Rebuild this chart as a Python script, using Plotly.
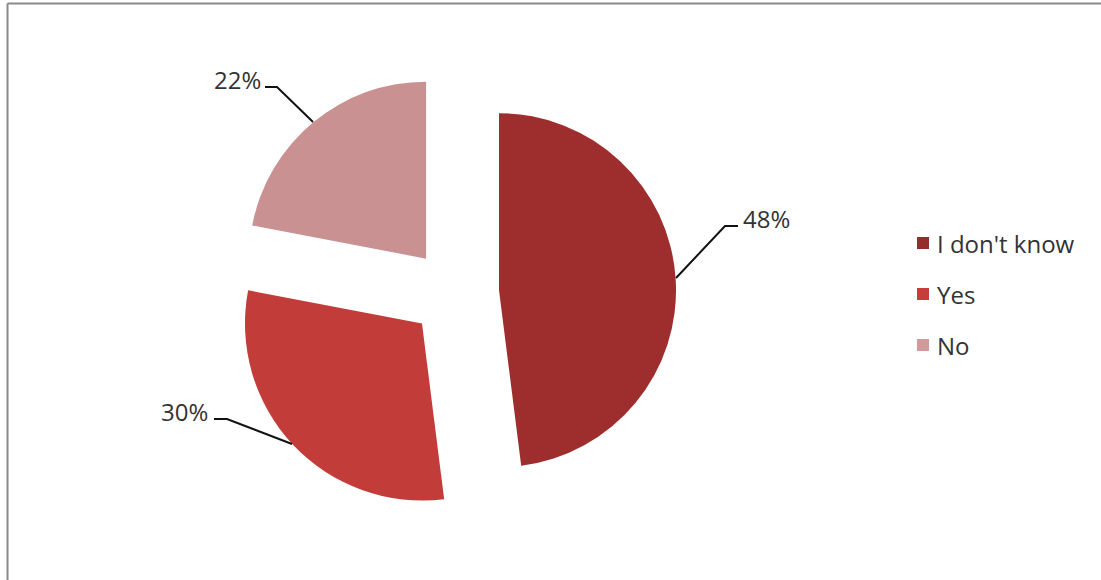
import plotly.graph_objects as go

# Survey answers
categories = ["I don't know", "Yes", "No"]
shares = [48, 30, 22]

slice_colors = ["#9E2E2D", "#C23C39", "#C99191"]
legend_colors = ["#952D2D", "#C73D3C", "#D29B9B"]

W, H = 1101, 580


def px(x):
    return x / W


def py(y):
    return 1 - y / H


fig = go.Figure()

# Exploded pie: centre (454.5, 293) px, box side 443 px
fig.add_trace(go.Pie(
    labels=categories,
    values=shares,
    sort=False,
    direction="clockwise",
    rotation=0,
    pull=[0.252, 0.252, 0.252],
    marker=dict(colors=slice_colors, line=dict(width=0)),
    textinfo="none",
    hoverinfo="label+percent",
    showlegend=False,
    domain=dict(x=[px(232.9), px(676.1)], y=[py(514.6), py(71.4)]),
))

font_family = "Open Sans, Noto Sans, sans-serif"
label_font = dict(family=font_family, size=24, color="#333333")

# Percentage labels with elbow leader lines
label_layout = [
    # (text anchor x, text y, xanchor, leader path points)
    (741, 219, "left", [(676, 278), (725, 226), (738, 226)]),
    (210, 411, "right", [(292, 444), (227, 419), (214, 419)]),
    (263, 79, "right", [(313, 122), (277, 87), (265, 87)]),
]

annotations = []
shapes = []
for value, (tx, ty, anchor, pts) in zip(shares, label_layout):
    annotations.append(dict(
        x=px(tx), y=py(ty), xref="paper", yref="paper",
        text=f"{value}%", showarrow=False,
        xanchor=anchor, yanchor="middle", font=label_font,
    ))
    path = "M " + " L ".join(f"{px(x):.5f},{py(y):.5f}" for x, y in pts)
    shapes.append(dict(
        type="path", path=path, xref="paper", yref="paper",
        line=dict(color="#111111", width=2),
    ))

# Legend
legend_y = [243, 294, 345]
for name, color, ly in zip(categories, legend_colors, legend_y):
    shapes.append(dict(
        type="rect", xref="paper", yref="paper",
        x0=px(917), x1=px(929), y0=py(ly + 6), y1=py(ly - 6),
        fillcolor=color, line=dict(width=0),
    ))
    annotations.append(dict(
        x=px(935), y=py(ly), xref="paper", yref="paper",
        text=name, showarrow=False, xanchor="left", yanchor="middle",
        font=label_font,
    ))

# Chart frame: top and left edges
frame = dict(color="#8A8A8A", width=2)
shapes.append(dict(type="line", xref="paper", yref="paper",
                   x0=px(7.5), x1=1, y0=py(3.5), y1=py(3.5), line=frame))
shapes.append(dict(type="line", xref="paper", yref="paper",
                   x0=px(7.5), x1=px(7.5), y0=py(3.5), y1=0, line=frame))

fig.update_layout(
    width=W, height=H,
    margin=dict(l=0, r=0, t=0, b=0),
    paper_bgcolor="white",
    plot_bgcolor="white",
    annotations=annotations,
    shapes=shapes,
)

fig.write_html("out.html", config={"displayModeBar": False})
